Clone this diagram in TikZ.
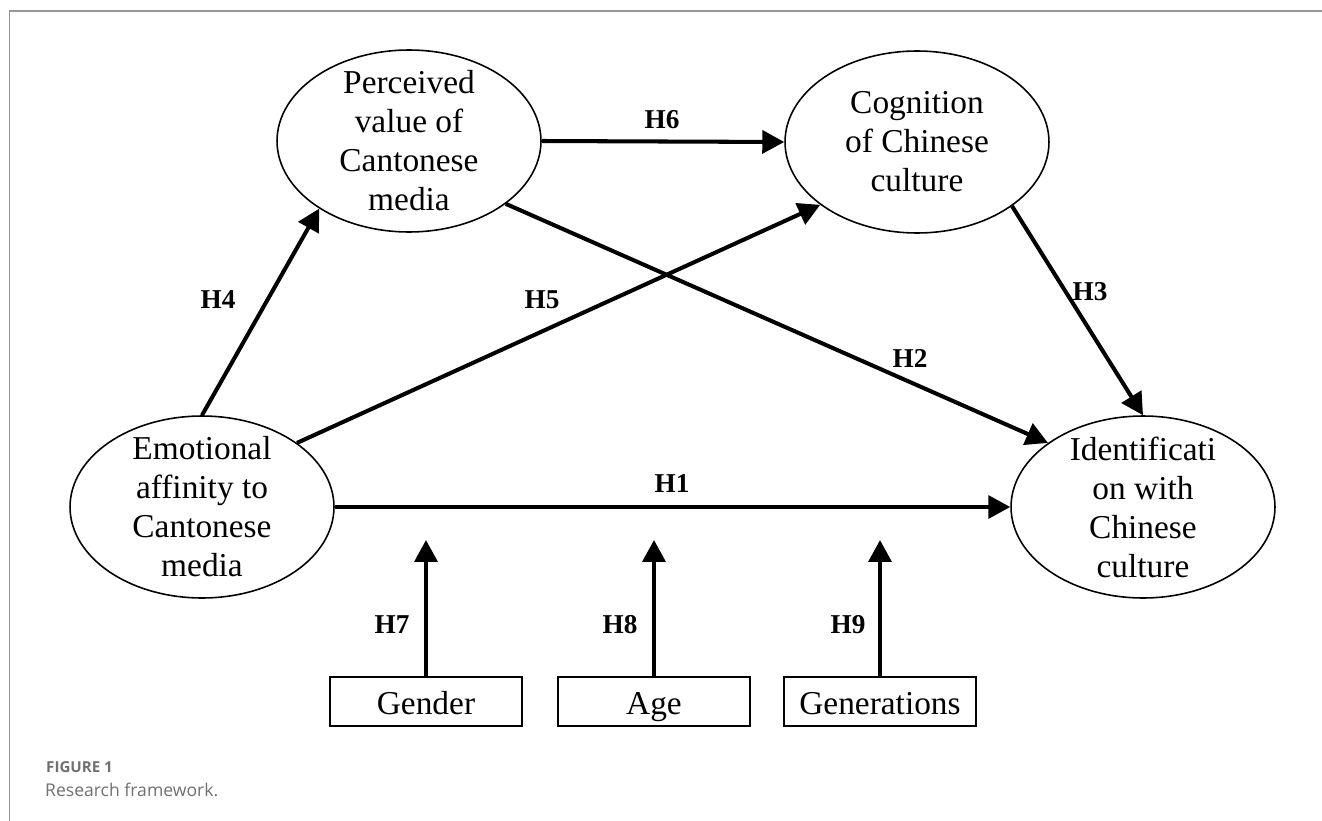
\documentclass[tikz,border=0pt]{standalone}
\usepackage{fontspec}
\setmainfont{Liberation Serif}
\newfontfamily\capfont{Open Sans}
\usetikzlibrary{arrows.meta,shapes.geometric}
\definecolor{capgray}{RGB}{112,112,112}
\definecolor{framegray}{RGB}{150,150,150}
\begin{document}
\begin{tikzpicture}[x=0.02cm,y=-0.02cm,
    ell/.style={draw, ellipse, line width=0.9pt, minimum width=5.28cm, minimum height=3.64cm, inner sep=0pt},
    txt/.style={align=center, font=\fontsize{19}{22.2}\selectfont},
    var/.style={draw, line width=1.1pt, minimum width=3.84cm, minimum height=0.98cm, text height=17pt, text depth=2pt, font=\fontsize{19}{22}\selectfont},
    hyp/.style={line width=2.3pt, -{Triangle[length=12.5pt,width=13pt]}},
    hlab/.style={font=\fontsize{15.5}{18}\selectfont\bfseries}]
    \useasboundingbox (0,0) rectangle (1322,821);
    \draw[framegray, line width=0.6pt] (9.5,821) -- (9.5,11) -- (1322,11);
    \node[ell] (per) at (409,141) {};
    \node[ell] (cog) at (917,142) {};
    \node[ell] (emo) at (202,507) {};
    \node[ell] (ide) at (1143,507) {};
    \node[txt] (per-t) at (per) {Perceived\\value of\\Cantonese\\media};
    \node[txt] (cog-t) at (cog) {Cognition\\of Chinese\\culture};
    \node[txt] (emo-t) at (emo) {Emotional\\affinity to\\Cantonese\\media};
    \node[txt] (ide-t) at (ide) {Identificati\\on with\\Chinese\\culture};
    \node[var] (gen) at (426,701.5) {Gender};
    \node[var] (age) at (654,701.5) {Age};
    \node[var] (gnr) at (880,701.5) {Generations};
    \coordinate (m7) at (426,540);
    \coordinate (m8) at (654,540);
    \coordinate (m9) at (880,540);
    \draw[hyp] (emo.east) -- (ide.west);
    \draw[hyp] (per.-33) -- (ide.146);
    \draw[hyp] (cog.-34) -- (ide.north);
    \draw[hyp] (emo.north) -- (per.217);
    \draw[hyp] (emo.34) -- (cog.213);
    \draw[hyp] (per.east) -- (cog.west);
    \draw[hyp] (gen.north) -- (m7);
    \draw[hyp] (age.north) -- (m8);
    \draw[hyp] (gnr.north) -- (m9);
    \node[hlab] (h1) at (672,484) {H1};
    \node[hlab] (h2) at (910,358) {H2};
    \node[hlab] (h3) at (1090,292) {H3};
    \node[hlab] (h4) at (218,300) {H4};
    \node[hlab] (h5) at (542,300) {H5};
    \node[hlab] (h6) at (662,120) {H6};
    \node[hlab] (h7) at (392,625) {H7};
    \node[hlab] (h8) at (620,625) {H8};
    \node[hlab] (h9) at (848,625) {H9};
    \node[anchor=west, capgray, font=\capfont\fontsize{8.6}{10}\selectfont\bfseries] (fig) at (40,767) {FIGURE 1};
    \node[anchor=west, capgray, font=\capfont\fontsize{10}{12}\selectfont] (cap) at (39,790) {Research framework.};
\end{tikzpicture}
\end{document}
